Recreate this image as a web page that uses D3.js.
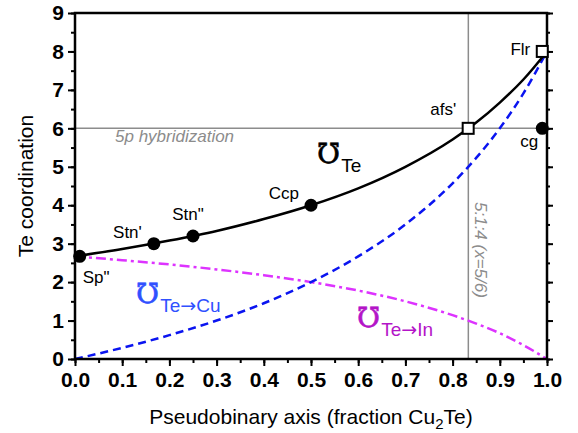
<!DOCTYPE html>
<html>
<head>
<meta charset="utf-8">
<script src="https://cdn.jsdelivr.net/npm/d3@7"></script>
<style>
  body { margin: 0; background: #fff; }
  svg { display: block; font-family: Arial, "Liberation Sans", sans-serif; }
</style>
</head>
<body>
<div id="chart"></div>
<script>
// valeurs
const xs     = [0, 0.1, 0.2, 0.3, 0.4, 0.5, 0.6, 0.7, 0.8, 0.85, 0.9, 0.95, 1.0];
const total  = [2.67, 2.86, 3.08, 3.33, 3.64, 4.0, 4.44, 5.0, 5.71, 6.15, 6.67, 7.27, 8.0];
const toCu   = [0, 0.29, 0.62, 1.0, 1.45, 2.0, 2.67, 3.5, 4.57, 5.23, 6.0, 6.91, 8.0];
const toIn   = [2.67, 2.57, 2.46, 2.33, 2.18, 2.0, 1.78, 1.5, 1.14, 0.92, 0.67, 0.36, 0];

const circleNames = ['Sp"', "Stn'", 'Stn"', "Ccp", "cg"];
const circleX = [0.01, 0.167, 0.25, 0.5, 0.99];
const circleY = [2.67, 3.0, 3.2, 4.0, 6.0];

const squareNames = ["afs'", "Flr"];
const squareX = [0.833, 0.99];
const squareY = [6.0, 8.0];

const xTicks = [0, 0.1, 0.2, 0.3, 0.4, 0.5, 0.6, 0.7, 0.8, 0.9, 1.0];
const yTicks = [0, 1, 2, 3, 4, 5, 6, 7, 8, 9];

const width = 578, height = 433;
const margin = {top: 13, right: 31, bottom: 74, left: 75};

const svg = d3.select("#chart").append("svg")
  .attr("width", width).attr("height", height);

const x = d3.scaleLinear().domain([0, 1]).range([margin.left, width - margin.right]);
const y = d3.scaleLinear().domain([0, 9]).range([height - margin.bottom, margin.top]);

// lignes de référence grises
svg.append("line")
  .attr("x1", x(0)).attr("x2", x(1)).attr("y1", y(6)).attr("y2", y(6))
  .attr("stroke", "#8c8c8c").attr("stroke-width", 1.5);
svg.append("line")
  .attr("x1", x(5 / 6)).attr("x2", x(5 / 6)).attr("y1", y(0)).attr("y2", y(9))
  .attr("stroke", "#8c8c8c").attr("stroke-width", 1.5);

svg.append("text")
  .attr("x", x(0) + 40).attr("y", y(6) + 14)
  .attr("font-size", 17).attr("font-style", "italic").attr("fill", "#8c8c8c")
  .text("5p hybridization");

svg.append("text")
  .attr("transform", `translate(${x(5 / 6) + 7},202) rotate(90)`)
  .attr("font-size", 17).attr("font-style", "italic").attr("fill", "#8c8c8c")
  .text("5:1:4 (x=5/6)");

// courbes
const line = d3.line().x(d => x(d[0])).y(d => y(d[1])).curve(d3.curveMonotoneX);

svg.append("path")
  .attr("d", line(d3.zip(xs, toIn)))
  .attr("fill", "none").attr("stroke", "#dd33ff").attr("stroke-width", 2.5)
  .attr("stroke-dasharray", "10,4,3,4");

svg.append("path")
  .attr("d", line(d3.zip(xs, toCu)))
  .attr("fill", "none").attr("stroke", "#0a14f0").attr("stroke-width", 2.5)
  .attr("stroke-dasharray", "8,5");

svg.append("path")
  .attr("d", line(d3.zip(xs, total)))
  .attr("fill", "none").attr("stroke", "#000").attr("stroke-width", 2.5);

// axes
const bottom = svg.append("g").attr("transform", `translate(0,${y(0)})`);
bottom.call(d3.axisBottom(x).tickValues(d3.range(0, 1.0001, 0.05)).tickSize(4).tickFormat(""));
bottom.call(g => g.append("g").call(d3.axisBottom(x).tickValues(xTicks).tickSize(7).tickFormat(d3.format(".1f"))));

const left = svg.append("g").attr("transform", `translate(${x(0)},0)`);
left.call(d3.axisLeft(y).tickValues(d3.range(0, 9.001, 0.5)).tickSize(4).tickFormat(""));
left.call(g => g.append("g").call(d3.axisLeft(y).tickValues(yTicks).tickSize(7).tickFormat(d3.format("d"))));

const right = svg.append("g").attr("transform", `translate(${x(1)},0)`);
right.call(d3.axisLeft(y).tickValues(d3.range(0, 9.001, 0.5)).tickSize(-3).tickFormat(""));
right.call(g => g.append("g").call(d3.axisLeft(y).tickValues(yTicks).tickSize(-6).tickFormat("")));

svg.selectAll(".domain").remove();
svg.selectAll(".tick line").attr("stroke", "#000").attr("stroke-width", 2);
svg.selectAll(".tick text")
  .attr("font-family", "Arial, 'Liberation Sans', sans-serif")
  .attr("font-size", 21).attr("font-weight", "bold").attr("fill", "#000");
bottom.selectAll(".tick text").attr("dy", "0.75em").attr("y", 12);
left.selectAll(".tick text").attr("x", -11);

// cadre
svg.append("rect")
  .attr("x", x(0)).attr("y", y(9))
  .attr("width", x(1) - x(0)).attr("height", y(0) - y(9))
  .attr("fill", "none").attr("stroke", "#000").attr("stroke-width", 2.5);

// points
const circleOffsets = [[3, 27, "start"], [-12, -6, "end"], [-5, -16, "middle"], [-12, -6, "end"], [-4, 19, "end"]];
const squareOffsets = [[-12, -13, "end"], [-12, 4, "end"]];

circleX.forEach((cx, i) => {
  svg.append("circle")
    .attr("cx", x(cx)).attr("cy", y(circleY[i])).attr("r", 6.5).attr("fill", "#000");
  svg.append("text")
    .attr("x", x(cx) + circleOffsets[i][0]).attr("y", y(circleY[i]) + circleOffsets[i][1])
    .attr("text-anchor", circleOffsets[i][2]).attr("font-size", 17)
    .text(circleNames[i]);
});

squareX.forEach((sx, i) => {
  svg.append("rect")
    .attr("x", x(sx) - 5.5).attr("y", y(squareY[i]) - 5.5)
    .attr("width", 11).attr("height", 11)
    .attr("fill", "#fff").attr("stroke", "#000").attr("stroke-width", 2);
  svg.append("text")
    .attr("x", x(sx) + squareOffsets[i][0]).attr("y", y(squareY[i]) + squareOffsets[i][1])
    .attr("text-anchor", squareOffsets[i][2]).attr("font-size", 17)
    .text(squareNames[i]);
});

// étiquettes des courbes
function mhoLabel(px, py, sub, color) {
  const t = svg.append("text").attr("x", px).attr("y", py).attr("fill", color);
  t.append("tspan").attr("font-family", "'DejaVu Serif', serif").attr("font-size", 28)
    .attr("stroke", color).attr("stroke-width", 0.6).text("\u2127");
  const parts = sub.split("\u2192");
  t.append("tspan").attr("font-size", 19).attr("dy", 9).attr("dx", 1).text(parts[0]);
  if (parts.length > 1) {
    t.append("tspan").attr("font-family", "'DejaVu Sans', sans-serif").attr("font-size", 19).text("\u2192");
    t.append("tspan").attr("font-size", 19).text(parts[1]);
  }
}
mhoLabel(317, 163, "Te", "#000");
mhoLabel(136, 303, "Te\u2192Cu", "#3050ff");
mhoLabel(357, 327, "Te\u2192In", "#b414c8");

// titres des axes
svg.append("text")
  .attr("x", (x(0) + x(1)) / 2).attr("y", 424)
  .attr("text-anchor", "middle").attr("font-size", 21)
  .call(t => {
    t.append("tspan").text("Pseudobinary axis (fraction Cu");
    t.append("tspan").attr("font-size", 15).attr("dy", 5).text("2");
    t.append("tspan").attr("dy", -5).text("Te)");
  });

svg.append("text")
  .attr("transform", `translate(33,${(y(0) + y(9)) / 2}) rotate(-90)`)
  .attr("text-anchor", "middle").attr("font-size", 21)
  .text("Te coordination");
</script>
</body>
</html>
